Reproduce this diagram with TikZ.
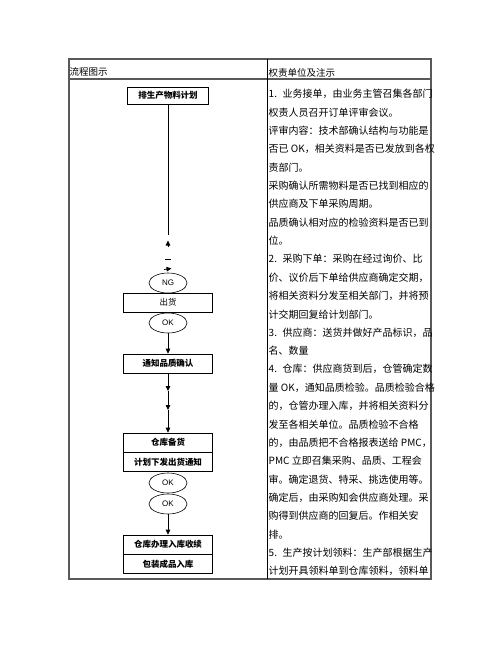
\documentclass[tikz,border=0pt]{standalone}
\usepackage{fontspec}
\setmainfont{Noto Sans CJK SC}
\newfontfamily\oksans{Liberation Sans}
\usetikzlibrary{shapes.geometric,arrows.meta,positioning}
\newcommand{\itm}[1]{\makebox[14pt][l]{#1.}}
\tikzset{
  stepbox/.style={draw, line width=0.6pt, minimum width=89pt, minimum height=19pt, inner sep=0pt, font=\bfseries\fontsize{8.5}{10}\selectfont},
  okell/.style={draw, ellipse, line width=0.6pt, minimum width=38pt, minimum height=20pt, inner sep=0pt, font=\oksans\fontsize{8}{9}\selectfont},
  flow/.style={-{Triangle[length=5pt,width=4.5pt]}, line width=0.8pt},
  note/.style={anchor=west, inner sep=0pt, font=\fontsize{10}{12}\selectfont},
  tabline/.style={line width=1.8pt, draw=black!65}
}
\begin{document}
\begin{tikzpicture}[x=1pt,y=-1pt]
\useasboundingbox (0,0) rectangle (502,649);
% table frame
\draw[tabline] (69,59) rectangle (431,579);
\draw[tabline] (69,79) -- (431,79);
\draw[line width=1pt] (267,59) -- (267,579);
\node[note, font=\fontsize{9.5}{11}\selectfont] (head1) at (69.5,72) {流程图示};
\node[note, font=\fontsize{9.5}{11}\selectfont] (head2) at (268.5,72.5) {权责单位及注示};
% flow column
\node[stepbox, minimum width=81pt, minimum height=17pt] (plan) at (168,95.5) {排生产物料计划};
\coordinate (cut) at (168,235);
\draw[line width=0.8pt] (plan) -- (cut);
\draw[flow] (168,247) -- (168,240.5);
\draw[line width=0.6pt] (165,259) -- (171,259);
\draw[flow] (164,269.5) -- (171.5,268.5);
\node[okell] (ng) at (168,283) {NG};
\node[stepbox, font=\fontsize{8.5}{10}\selectfont] (ship) at (168,302.5) {出货};
\node[okell] (ok1) at (168,323) {OK};
\node[stepbox] (qc) at (168,363.5) {通知品质确认};
\node[stepbox] (stock) at (168,442.5) {仓库备货};
\node[stepbox, below=0pt of stock] (notice) {计划下发出货通知};
\node[okell] (ok2) at (168,483) {OK};
\node[okell] (ok3) at (168,504) {OK};
\node[stepbox] (store) at (168,544.5) {仓库办理入库收续};
\node[stepbox, below=0pt of store] (pack) {包装成品入库};
\coordinate (m1) at (168,391);
\coordinate (m2) at (168,410);
\draw[flow] (ok1) -- (qc);
\draw[flow] (qc) -- (m1);
\draw[flow] (m1) -- (m2);
\draw[flow] (m2) -- (stock);
\draw[flow] (ok3) -- (store);
% notes column
\foreach \t [count=\i from 0] in {
  {\itm{1}业务接单，由业务主管召集各部门},
  {权责人员召开订单评审会议。},
  {评审内容：技术部确认结构与功能是},
  {否已 OK，相关资料是否已发放到各权},
  {责部门。},
  {采购确认所需物料是否已找到相应的},
  {供应商及下单采购周期。},
  {品质确认相对应的检验资料是否已到},
  {位。},
  {\itm{2}采购下单：采购在经过询价、比},
  {价、议价后下单给供应商确定交期，},
  {将相关资料分发至相关部门，并将预},
  {计交期回复给计划部门。},
  {\itm{3}供应商：送货并做好产品标识，品},
  {名、数量},
  {\itm{4}仓库：供应商货到后，仓管确定数},
  {量 OK，通知品质检验。品质检验合格},
  {的，仓管办理入库，并将相关资料分},
  {发至各相关单位。品质检验不合格},
  {的，由品质把不合格报表送给 PMC，},
  {PMC 立即召集采购、品质、工程会},
  {审。确定退货、特采、挑选使用等。},
  {确定后，由采购知会供应商处理。采},
  {购得到供应商的回复后。作相关安},
  {排。},
  {\itm{5}生产按计划领料：生产部根据生产},
  {计划开具领料单到仓库领料，领料单}}
  \node[note] (line\i) at (268.5,{94+18.35*\i}) {\t};
\end{tikzpicture}
\end{document}
